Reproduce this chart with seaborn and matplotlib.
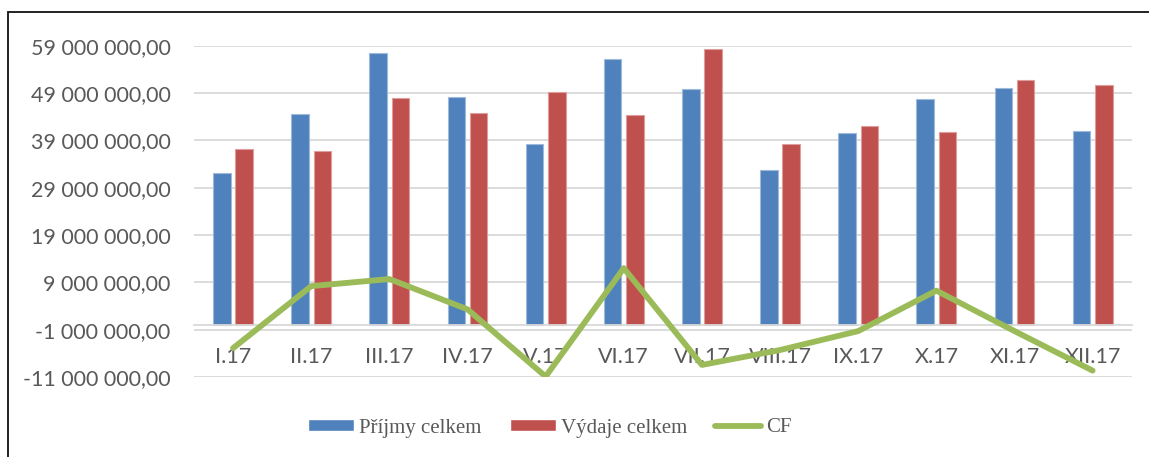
import numpy as np
import pandas as pd
import matplotlib
matplotlib.use("Agg")
import matplotlib.pyplot as plt
import matplotlib.colors as mcolors
import seaborn as sns
from matplotlib.ticker import FixedLocator, FuncFormatter
from matplotlib.patches import Patch, Rectangle
from matplotlib.lines import Line2D

# Monthly cash flow, 2017 (CZK)
months = ["I.17", "II.17", "III.17", "IV.17", "V.17", "VI.17",
          "VII.17", "VIII.17", "IX.17", "X.17", "XI.17", "XII.17"]
prijmy = [32_100_000, 44_600_000, 57_500_000, 48_100_000, 38_200_000, 56_100_000,
          49_900_000, 32_800_000, 40_500_000, 47_700_000, 50_100_000, 41_000_000]
vydaje = [37_200_000, 36_800_000, 48_000_000, 44_800_000, 49_200_000, 44_400_000,
          58_300_000, 38_200_000, 42_000_000, 40_800_000, 51_700_000, 50_700_000]
cf = [-4_900_000, 8_200_000, 9_700_000, 3_300_000, -10_900_000, 12_000_000,
      -8_450_000, -5_300_000, -1_300_000, 7_250_000, -1_300_000, -9_650_000]
series_names = ["Příjmy celkem", "Výdaje celkem", "CF"]
y_ticks = [-11_000_000, -1_000_000, 9_000_000, 19_000_000, 29_000_000,
           39_000_000, 49_000_000, 59_000_000]

BLUE = "#4F81BD"
RED = "#C0504D"
GREEN = "#9BBB59"
TEXT = "#595959"
GRID = "#D9D9D9"

sns.set_theme(style="white")
plt.rcParams["font.family"] = ["Lato", "DejaVu Sans"]

W, H = 1149, 457
fig = plt.figure(figsize=(W / 100, H / 100), dpi=100)
ax = fig.add_axes([194 / W, 1 - 377 / H, (1131.7 - 194) / W, (377 - 45.7) / H])

df = pd.DataFrame({
    "Měsíc": months * 2,
    "Částka": prijmy + vydaje,
    "Řada": [series_names[0]] * len(months) + [series_names[1]] * len(months),
})
sns.barplot(data=df, x="Měsíc", y="Částka", hue="Řada", order=months,
            hue_order=series_names[:2], palette=[BLUE, RED], saturation=1,
            width=0.57, gap=0.21, legend=False, ax=ax, zorder=2)

# soft light outline around each bar
for p in ax.patches:
    fc = np.array(mcolors.to_rgb(p.get_facecolor()))
    p.set_edgecolor(tuple(fc + (1 - fc) * 0.45))
    p.set_linewidth(0.8)

sns.lineplot(x=np.arange(len(months)), y=cf, color=GREEN, linewidth=4.2,
             ax=ax, zorder=4, solid_capstyle="round", solid_joinstyle="round")

ax.set_xlim(-0.5, len(months) - 0.5)
ax.set_ylim(y_ticks[0], y_ticks[-1])
ax.yaxis.set_major_locator(FixedLocator(y_ticks))
ax.yaxis.set_major_formatter(FuncFormatter(
    lambda v, _: f"{v:,.2f}".replace(",", " ").replace(".", ",")))
ax.set_xticks(range(len(months)))
ax.set_xticklabels(months)

ax.set_axisbelow(True)
ax.yaxis.grid(True, color=GRID, linewidth=1.3)
ax.xaxis.grid(False)
for side in ("left", "right", "top"):
    ax.spines[side].set_visible(False)
ax.spines["bottom"].set_position(("data", 0))
ax.spines["bottom"].set_color(GRID)
ax.spines["bottom"].set_linewidth(1.3)

ax.tick_params(axis="x", length=0, pad=16, labelsize=15.5, labelcolor=TEXT)
ax.tick_params(axis="y", length=0, pad=17, labelsize=15.5, labelcolor=TEXT)
ax.set_xlabel("")
ax.set_ylabel("")

# chart frame
fig.add_artist(Rectangle((8 / W, -0.1), 1.2, 1 - 12 / H + 0.1,
                         transform=fig.transFigure, fill=False,
                         edgecolor="#111111", linewidth=1.3))

handles = [
    Patch(facecolor=BLUE, label=series_names[0]),
    Patch(facecolor=RED, label=series_names[1]),
    Line2D([], [], color=GREEN, linewidth=4.2, solid_capstyle="round",
           label=series_names[2]),
]
fig.legend(handles=handles, loc="center", bbox_to_anchor=(550 / W, 1 - 428 / H),
           ncol=3, frameon=False,
           prop={"family": ["Liberation Serif"], "size": 15},
           labelcolor=TEXT, handlelength=2.2, handleheight=0.55,
           handletextpad=0.25, columnspacing=1.35)

fig.savefig("out.png", dpi=100, facecolor="white")
